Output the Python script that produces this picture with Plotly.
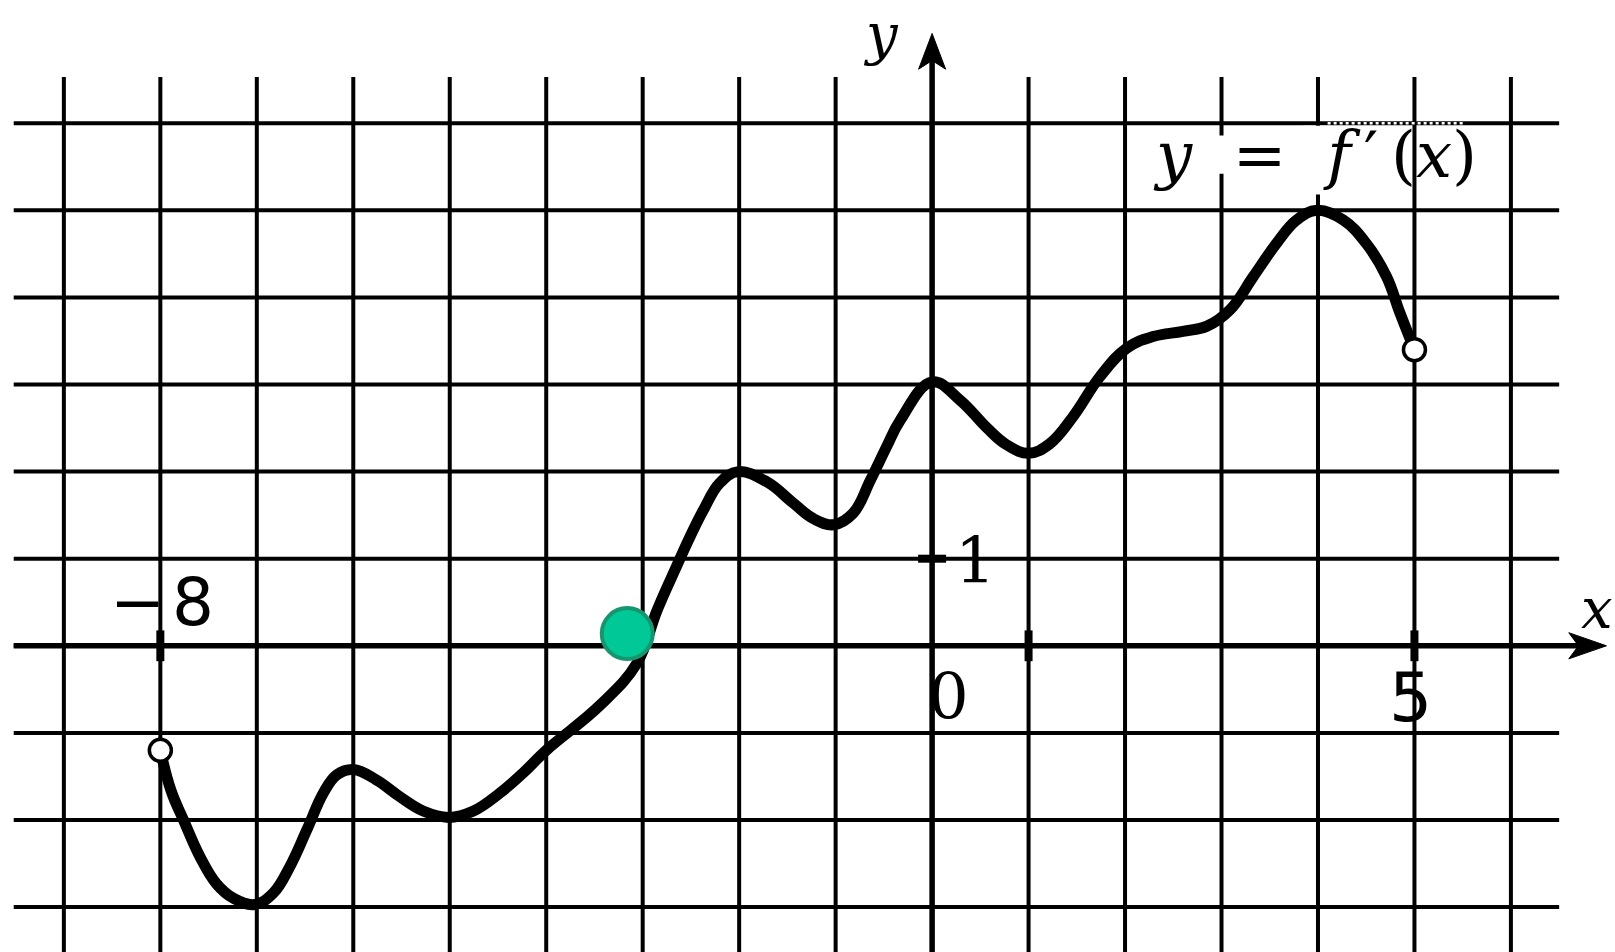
import plotly.graph_objects as go

# Graph of y = f'(x) read on a unit grid
curve_x = [-8.0, -7.89, -7.76, -7.59, -7.42, -7.24, -7.02, -6.83, -6.66, -6.48, -6.31,
           -6.17, -6.0, -5.76, -5.52, -5.27, -5.01, -4.76, -4.48, -4.24, -4.0,
           -3.44, -3.06, -2.85, -2.65, -2.51, -2.37, -2.2, -2.01, -1.71, -1.44, -1.23,
           -1.02, -0.82, -0.64, -0.47, -0.33, 0.0, 0.29, 0.57, 0.77, 1.0, 1.22, 1.46,
           1.74, 2.02, 2.29, 2.6, 2.85, 3.09, 3.33, 3.57, 3.78, 3.99, 4.26, 4.5, 4.71,
           4.85, 5.0]
curve_y = [-1.2, -1.66, -2.0, -2.42, -2.73, -2.9, -2.97, -2.84, -2.54, -2.11, -1.69,
           -1.48, -1.42, -1.54, -1.73, -1.9, -1.97, -1.9, -1.69, -1.46, -1.2,
           -0.68, -0.2, 0.41, 0.91, 1.25, 1.56, 1.87, 2.0, 1.88, 1.64, 1.46,
           1.39, 1.52, 1.9, 2.29, 2.59, 3.03, 2.82, 2.5, 2.31, 2.21, 2.32, 2.63,
           3.09, 3.42, 3.55, 3.61, 3.67, 3.86, 4.24, 4.62, 4.89, 5.0, 4.89, 4.62, 4.24,
           3.82, 3.4]

open_x = [-8, 5]
open_y = [-1.2, 3.4]

dot_x = [-3.16]
dot_y = [0.14]

grid_x = list(range(-9, 7))
grid_y = list(range(-3, 7))

xtick_marks = [-8, 1, 5]
ytick_marks = [1]

W, H = 1615, 952
X0, UX = 932.1, 96.47
Y0, UY = 645.8, 87.1
x_range = [-X0 / UX, (W - X0) / UX]
y_range = [(Y0 - H) / UY, Y0 / UY]

GX0, GX1 = -9.52, 6.5     # horizontal grid extent
GY0, GY1 = -3.7, 6.53     # vertical grid extent

shapes = []
for gx in grid_x:
    shapes.append(dict(type="line", xref="x", yref="y", x0=gx, x1=gx, y0=GY0, y1=GY1,
                       line=dict(color="black", width=4), layer="below"))
for gy in grid_y:
    shapes.append(dict(type="line", xref="x", yref="y", x0=GX0, x1=GX1, y0=gy, y1=gy,
                       line=dict(color="black", width=4), layer="below"))

# axes
shapes.append(dict(type="line", xref="x", yref="y", x0=GX0, x1=6.75, y0=0, y1=0,
                   line=dict(color="black", width=5.5), layer="below"))
shapes.append(dict(type="line", xref="x", yref="y", x0=0, x1=0, y0=GY0, y1=6.75,
                   line=dict(color="black", width=5.5), layer="below"))
# arrow heads
shapes.append(dict(type="path", xref="x", yref="y",
                   path="M 6.99 0 L 6.6 0.15 L 6.7 0 L 6.6 -0.15 Z",
                   fillcolor="black", line=dict(color="black", width=1), layer="below"))
shapes.append(dict(type="path", xref="x", yref="y",
                   path="M 0 7.03 L 0.14 6.62 L 0 6.72 L -0.14 6.62 Z",
                   fillcolor="black", line=dict(color="black", width=1), layer="below"))

# clear space behind the formula label
shapes.append(dict(type="rect", xref="x", yref="y", x0=2.88, x1=3.12, y0=5.42, y1=5.86,
                   fillcolor="white", line=dict(width=0), layer="below"))
shapes.append(dict(type="rect", xref="x", yref="y", x0=3.85, x1=4.15, y0=5.18, y1=5.97,
                   fillcolor="white", line=dict(width=0), layer="below"))
shapes.append(dict(type="line", xref="x", yref="y", x0=4.1, x1=5.5, y0=6, y1=6,
                   line=dict(color="white", width=2.5, dash="dot"), layer="below"))

fig = go.Figure()

fig.add_trace(go.Scatter(
    x=curve_x, y=curve_y, mode="lines",
    line=dict(color="black", width=11, shape="spline", smoothing=1.15),
    hoverinfo="skip", showlegend=False))

fig.add_trace(go.Scatter(
    x=xtick_marks, y=[0] * len(xtick_marks), mode="markers",
    marker=dict(symbol="line-ns", size=22, line=dict(color="black", width=8)),
    hoverinfo="skip", showlegend=False))
fig.add_trace(go.Scatter(
    x=[0] * len(ytick_marks), y=ytick_marks, mode="markers",
    marker=dict(symbol="line-ew", size=20, line=dict(color="black", width=8)),
    hoverinfo="skip", showlegend=False))

fig.add_trace(go.Scatter(
    x=open_x, y=open_y, mode="markers",
    marker=dict(symbol="circle", size=22, color="white", line=dict(color="black", width=3.5)),
    hoverinfo="skip", showlegend=False))

fig.add_trace(go.Scatter(
    x=dot_x, y=dot_y, mode="markers",
    marker=dict(symbol="circle", size=51, color="#00c896", line=dict(color="#17956f", width=4)),
    hoverinfo="skip", showlegend=False))

serif = "DejaVu Serif"
sans = "DejaVu Sans"
NB = "\u00a0"
annotations = [
    dict(x=-0.53, y=y_range[1], yanchor="top", text="<i>y</i>",
         font=dict(family=serif, size=56, color="black")),
    dict(x=x_range[1], y=0.43, text="<i>x</i>", xanchor="right",
         font=dict(family=serif, size=56, color="black")),
    dict(x=-7.98, y=0.5, text="\u2212\u200a8", font=dict(family=sans, size=66, color="black")),
    dict(x=0.45, y=0.97, text="1", font=dict(family=serif, size=64, color="black")),
    dict(x=0.17, y=-0.59, text="0", font=dict(family=serif, size=64, color="black")),
    dict(x=4.96, y=-0.59, text="5", font=dict(family=sans, size=68, color="black")),
    dict(x=3.97, y=5.64,
         text="<i>y</i>" + NB * 2 + "=" + NB * 2 + "<i>f</i>\u2009\u2032\u2009(<i>x</i>)",
         font=dict(family=serif, size=64, color="black")),
]
for a in annotations:
    a.update(xref="x", yref="y", showarrow=False)
    a.setdefault("xanchor", "center")
    a.setdefault("yanchor", "middle")

fig.update_layout(
    width=W, height=H, autosize=False,
    margin=dict(l=0, r=0, t=0, b=0, pad=0),
    paper_bgcolor="white", plot_bgcolor="white",
    xaxis=dict(range=x_range, visible=False, fixedrange=True),
    yaxis=dict(range=y_range, visible=False, fixedrange=True),
    shapes=shapes, annotations=annotations, showlegend=False,
)

fig.write_html("out.html", config={"displayModeBar": False})
